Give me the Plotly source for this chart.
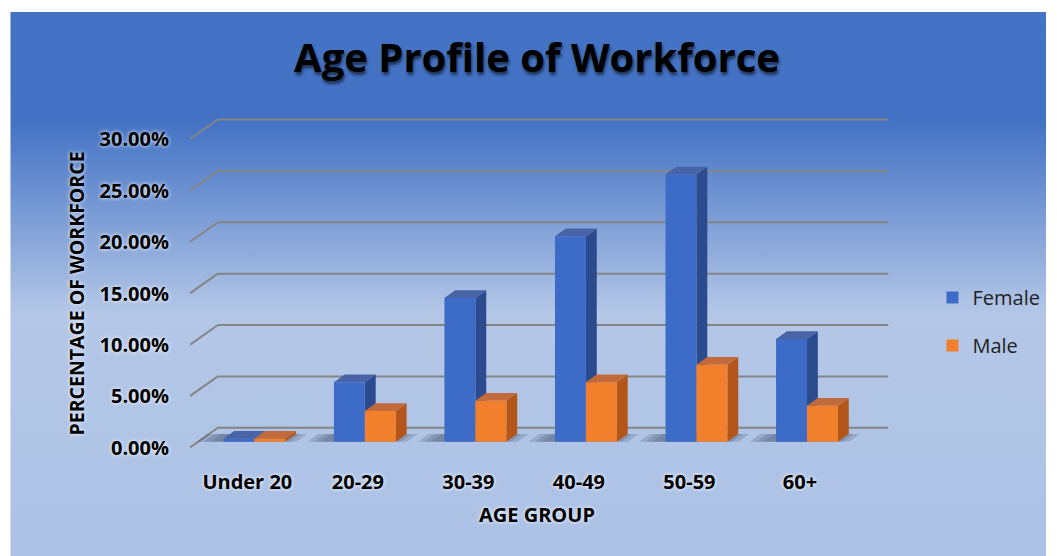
import base64
import plotly.graph_objects as go

# ---------------- data ----------------
categories = ["Under 20", "20-29", "30-39", "40-49", "50-59", "60+"]
female = [0.003, 0.058, 0.140, 0.200, 0.260, 0.100]
male = [0.003, 0.030, 0.040, 0.058, 0.075, 0.035]
tick_values = [0.0, 0.05, 0.10, 0.15, 0.20, 0.25, 0.30]
tick_labels = ["0.00%", "5.00%", "10.00%", "15.00%", "20.00%", "25.00%", "30.00%"]
series_names = ["Female", "Male"]

# ---------------- style / geometry ----------------
W, H = 1049, 548
X_RANGE = [-0.6, 5.76]
Y_RANGE = [-0.008, 0.317]
ML, MT, MB = 180, 108, 106
PLOT_W = round((X_RANGE[1] - X_RANGE[0]) * 112)
MR = W - ML - PLOT_W
PLOT_H = H - MT - MB
BAR_W = 0.28
DEPTH_DX = 0.098      # bar depth in category units
DEPTH_DY = 0.0075     # bar depth in value units
WALL_FRONT_X = -0.58
WALL_BACK_X = -0.33
WALL_RIGHT_X = 5.735
FRONT_DY = -0.0054
BACK_DY = 0.0136

front_col = {"Female": "#3c6cc8", "Male": "#f27f2c"}
side_col = {"Female": "#2c4b8e", "Male": "#b4561a"}
top_col = {"Female": "#4864a6", "Male": "#c26a3c"}

FONT = "Open Sans"

fig = go.Figure()
xs = list(range(len(categories)))
for name, vals in zip(series_names, [female, male]):
    fig.add_trace(go.Bar(
        x=xs, y=vals, name=name, legendgroup=name,
        marker=dict(color=front_col[name], line=dict(width=0)),
        hovertemplate="%{y:.2%}<extra>" + name + "</extra>",
    ))

shapes = []
# back wall gridlines with left diagonal
for v in tick_values:
    shapes.append(dict(type="line", xref="x", yref="y", layer="between",
                       x0=WALL_BACK_X, x1=WALL_RIGHT_X, y0=v + BACK_DY, y1=v + BACK_DY,
                       line=dict(color="#858585", width=2)))
    shapes.append(dict(type="line", xref="x", yref="y", layer="between",
                       x0=WALL_FRONT_X, x1=WALL_BACK_X, y0=v + FRONT_DY, y1=v + BACK_DY,
                       line=dict(color="#858585", width=2)))

# soft floor shadows (layered for a blurred look)
for i in xs:
    for grow, alpha in [(0.0, 0.16), (0.06, 0.14), (0.12, 0.12)]:
        xl = i - BAR_W - 0.24 + grow
        xr = i + BAR_W + 0.10 - grow
        shapes.append(dict(type="path", xref="x", yref="y", layer="between",
                           path=f"M{xl},{0.0} L{xr},{0.0} L{xr + DEPTH_DX},{DEPTH_DY} L{xl + DEPTH_DX},{DEPTH_DY} Z",
                           fillcolor=f"rgba(20,30,50,{alpha})", line=dict(width=0)))

# 3D side and top faces
for i in xs:
    for k, (name, vals) in enumerate(zip(series_names, [female, male])):
        v = vals[i]
        x0 = i - BAR_W + k * BAR_W
        x1 = x0 + BAR_W
        shapes.append(dict(type="path", xref="x", yref="y", layer="between",
                           path=f"M{x1},0 L{x1 + DEPTH_DX},{DEPTH_DY} L{x1 + DEPTH_DX},{v + DEPTH_DY} L{x1},{v} Z",
                           fillcolor=side_col[name], line=dict(width=0)))
        shapes.append(dict(type="path", xref="x", yref="y", layer="between",
                           path=f"M{x0},{v} L{x0 + DEPTH_DX},{v + DEPTH_DY} L{x1 + DEPTH_DX},{v + DEPTH_DY} L{x1},{v} Z",
                           fillcolor=top_col[name], line=dict(width=0)))

svg = (
    '<svg xmlns="http://www.w3.org/2000/svg" width="1049" height="544">'
    '<defs><linearGradient id="g" x1="0" y1="0" x2="0" y2="1">'
    '<stop offset="0" stop-color="#4472c4"/>'
    '<stop offset="0.2" stop-color="#4372c4"/>'
    '<stop offset="0.555" stop-color="#b4c7e7"/>'
    '<stop offset="1" stop-color="#acc1e5"/>'
    '</linearGradient></defs>'
    '<rect width="1049" height="544" fill="url(#g)"/></svg>'
)
bg_src = "data:image/svg+xml;base64," + base64.b64encode(svg.encode()).decode()

fig.update_layout(
    width=W, height=H,
    margin=dict(l=ML, r=MR, t=MT, b=MB),
    paper_bgcolor="white",
    plot_bgcolor="rgba(0,0,0,0)",
    barmode="group", bargap=0.44, bargroupgap=0,
    images=[dict(source=bg_src, xref="paper", yref="paper",
                 x=(0 - ML) / PLOT_W, y=(H - MB - 4) / PLOT_H,
                 sizex=1049 / PLOT_W, sizey=544 / PLOT_H,
                 xanchor="left", yanchor="top", sizing="stretch", layer="below")],
    shapes=shapes,
    title=dict(text="<b>Age Profile of Workforce</b>", x=529 / W, xanchor="center",
               y=1 - 50 / H, yanchor="middle",
               font=dict(family=FONT, size=40, color="black",
                         shadow="1px 3px 3px rgba(0,0,0,0.55)")),
    xaxis=dict(range=X_RANGE, tickvals=xs, ticktext=categories,
               showgrid=False, zeroline=False, showline=False, ticks="",
               ticklabelshift=-7, ticklabelstandoff=18,
               tickfont=dict(family=FONT, size=20, color="black", weight="bold",
                             shadow="0 0 4px white")),
    yaxis=dict(range=Y_RANGE, tickvals=tick_values, ticktext=tick_labels,
               showgrid=False, zeroline=False, showline=False, ticks="",
               ticklabelshift=6, ticklabelstandoff=18,
               tickfont=dict(family=FONT, size=20, color="black", weight="bold",
                             shadow="0 0 4px white")),
    legend=dict(x=(934 - ML) / PLOT_W, y=(H - MB - 270) / PLOT_H, xanchor="left", yanchor="top",
                traceorder="grouped", tracegroupgap=19,
                font=dict(family=FONT, size=20, color="#1f1f1f"),
                bgcolor="rgba(0,0,0,0)"),
    annotations=[
        dict(text="<b>PERCENTAGE OF WORKFORCE</b>", xref="paper", yref="paper",
             x=(67 - ML) / PLOT_W, y=(H - MB - 285) / PLOT_H, textangle=-90,
             showarrow=False, xanchor="center", yanchor="middle",
             font=dict(family=FONT, size=19.5, color="black", shadow="0 0 4px white")),
        dict(text="<b>AGE GROUP</b>", xref="paper", yref="paper",
             x=(533 - ML) / PLOT_W, y=(H - MB - 506) / PLOT_H,
             showarrow=False, xanchor="center", yanchor="middle",
             font=dict(family=FONT, size=20, color="black", shadow="0 0 4px white")),
    ],
)

fig.write_html("out.html")
